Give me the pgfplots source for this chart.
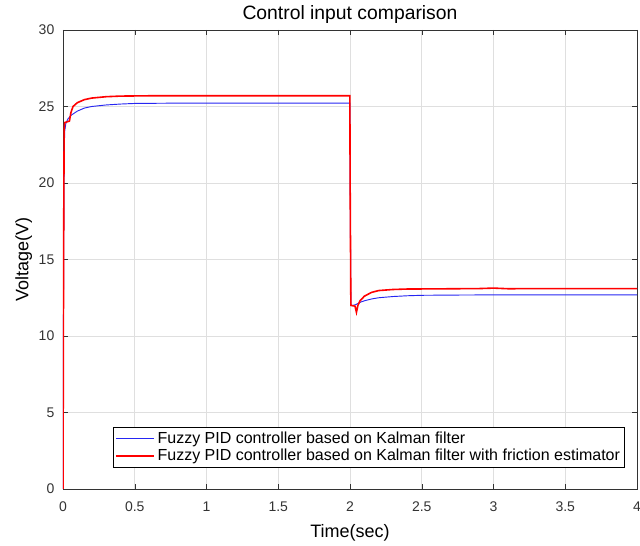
\documentclass[border=0pt]{standalone}
\usepackage{fontspec}
\setmainfont{Liberation Sans}
\usepackage{pgfplots}
\pgfplotsset{compat=1.18}
\definecolor{myblue}{rgb}{0.15,0.15,0.95}
\begin{document}
\begin{tikzpicture}
\begin{axis}[
  scale only axis,
  width=430.5pt, height=344.25pt,
  xmin=0, xmax=4, ymin=0, ymax=30,
  xtick={0,0.5,...,4}, ytick={0,5,...,30},
  xticklabels={0,0.5,1,1.5,2,2.5,3,3.5,4},
  /pgf/number format/assume math mode=true,
  ticklabel style={font=\fontsize{10.5}{12}\selectfont, color=black!80},
  xticklabel style={yshift=-6pt},
  yticklabel style={xshift=-3pt},
  grid=major,
  major grid style={gray!25, line width=0.5pt},
  axis line style={black!80, line width=0.6pt},
  tick style={black!80},
  major tick length=4pt,
  title={Control input comparison},
  title style={font=\fontsize{14.5}{16}\selectfont, yshift=-5pt},
  xlabel={Time(sec)}, ylabel={Voltage(V)},
  label style={font=\fontsize{13.5}{15}\selectfont},
  xlabel style={yshift=-3pt},
  ylabel style={yshift=-2pt},
  legend style={at={(0.979,0.046)}, anchor=south east, font=\fontsize{12}{13.5}\selectfont,
     inner sep=1.5pt, row sep=-1pt, cells={anchor=west}},
  legend image code/.code={\draw[#1] (0cm,0cm) -- (1cm,0cm);},
]
\addplot[myblue, line width=0.7pt] coordinates {
(0,0) (0.004,14) (0.008,22) (0.012,23.4) (0.02,23.9) (0.035,24.2) (0.06,24.45) (0.1,24.7)
(0.15,24.9) (0.2,25.0) (0.3,25.1) (0.4,25.16) (0.5,25.2) (0.8,25.22) (1.5,25.22) (1.999,25.22)
(2.001,20) (2.006,12.0) (2.02,12.0) (2.04,12.05) (2.07,12.2) (2.1,12.3) (2.15,12.42) (2.2,12.5)
(2.3,12.58) (2.4,12.63) (2.5,12.66) (2.8,12.68) (3.2,12.69) (4,12.69)};
\addlegendentry{Fuzzy PID controller based on Kalman filter}
\addplot[red, line width=1.2pt] coordinates {
(0,0) (0.004,15) (0.008,23.5) (0.012,23.95) (0.03,24.0) (0.045,24.05) (0.055,24.6) (0.07,25.0)
(0.1,25.25) (0.15,25.45) (0.2,25.55) (0.3,25.64) (0.4,25.68) (0.6,25.7) (1.0,25.7) (1.5,25.7) (1.999,25.7)
(2.001,20) (2.006,12.0) (2.035,11.95) (2.045,11.55) (2.055,12.0) (2.07,12.3) (2.1,12.6) (2.15,12.85)
(2.2,12.97) (2.3,13.04) (2.4,13.07) (2.6,13.08) (2.9,13.1) (3.0,13.13) (3.1,13.09) (3.5,13.1) (4,13.1)};
\addlegendentry{Fuzzy PID controller based on Kalman filter with friction estimator}
\end{axis}
\pgfresetboundingbox
\path[use as bounding box] ([xshift=-47.25pt,yshift=-42.75pt]current axis.south west) rectangle ([xshift=2.25pt,yshift=22.5pt]current axis.north east);
\end{tikzpicture}
\end{document}
